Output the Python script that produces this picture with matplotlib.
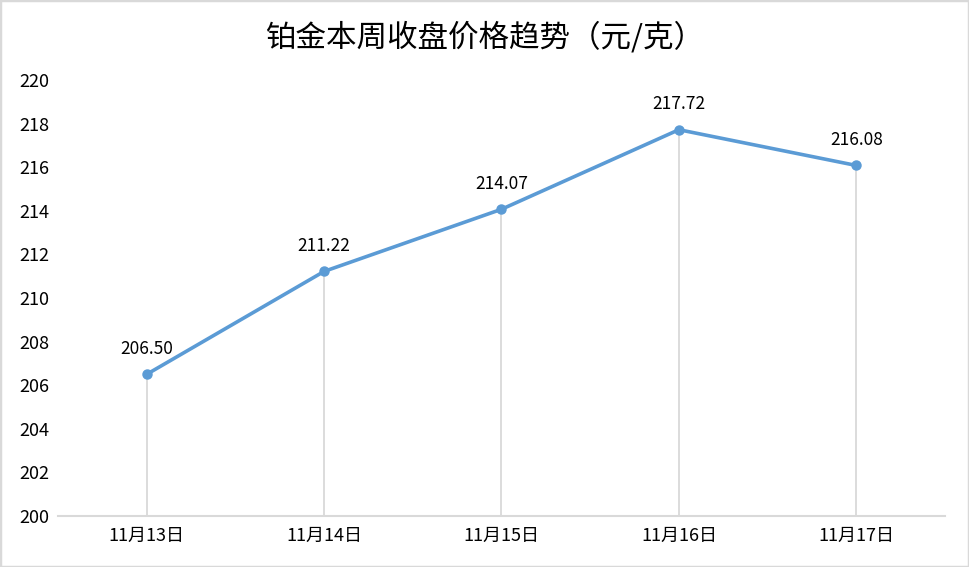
import matplotlib
matplotlib.use("Agg")
import matplotlib.pyplot as plt
from matplotlib.patches import Rectangle

plt.rcParams["font.family"] = ["Noto Sans CJK SC", "DejaVu Sans"]

dates = ["11月13日", "11月14日", "11月15日", "11月16日", "11月17日"]
prices = [206.50, 211.22, 214.07, 217.72, 216.08]
y_ticks = list(range(200, 221, 2))

fig = plt.figure(figsize=(9.69, 5.67), dpi=100)
ax = fig.add_axes([58 / 969, 51 / 567, 887 / 969, 436 / 567])

x = list(range(len(dates)))
line_color = "#5B9BD5"

# drop lines from each point down to the axis
ax.vlines(x, 200, prices, colors="#D9D9D9", linewidth=1.3, zorder=1)
ax.plot(x, prices, color=line_color, linewidth=2.6, marker="o",
        markersize=6.5, zorder=3)

for xi, p in zip(x, prices):
    ax.annotate(f"{p:.2f}", (xi, p), xytext=(0, 12), textcoords="offset points",
                ha="center", va="bottom", fontsize=12.5, color="#000000")

ax.set_xlim(-0.5, len(dates) - 0.5)
ax.set_ylim(200, 220)
ax.set_yticks(y_ticks)
ax.set_xticks(x)
ax.set_xticklabels(dates)
ax.tick_params(axis="both", length=0, labelsize=13, colors="#000000")
ax.tick_params(axis="x", pad=8)
ax.tick_params(axis="y", pad=28)
for lbl in ax.get_yticklabels():
    lbl.set_horizontalalignment("left")

for side in ["top", "right", "left"]:
    ax.spines[side].set_visible(False)
ax.spines["bottom"].set_color("#D9D9D9")
ax.spines["bottom"].set_linewidth(1.5)

fig.text(0.5, 1 - 38 / 567, "铂金本周收盘价格趋势（元/克）", ha="center",
         va="center", fontsize=22, color="#000000")

fig.patches.append(Rectangle((0, 0), 1, 1, transform=fig.transFigure,
                             fill=False, edgecolor="#D9D9D9", linewidth=2.5))

fig.savefig("out.png", dpi=100)
